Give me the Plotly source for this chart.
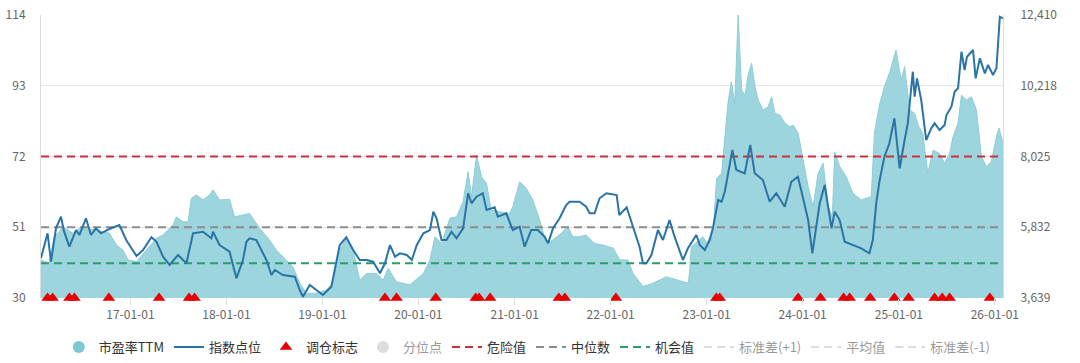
import plotly.graph_objects as go

pe_dates = ["2016-01-27","2016-02-27","2016-03-17","2016-04-06","2016-04-19","2016-05-27","2016-06-22","2016-08-24","2016-10-14","2016-11-09","2016-12-04","2016-12-23",
"2017-01-24","2017-03-02","2017-04-10","2017-05-05","2017-06-12","2017-06-25","2017-07-20","2017-08-08","2017-08-21","2017-09-09","2017-10-04","2017-10-29","2017-11-11","2017-12-06",
"2018-01-13","2018-02-01","2018-03-05","2018-03-30","2018-05-07","2018-06-14","2018-07-10","2018-08-04","2018-09-11","2018-10-07","2018-11-01","2018-12-09",
"2019-01-16","2019-02-10","2019-03-08","2019-04-02","2019-04-28","2019-05-23","2019-06-18","2019-07-26","2019-08-08","2019-08-20","2019-09-08","2019-10-10","2019-11-30",
"2020-01-20","2020-02-14","2020-03-04","2020-03-29","2020-04-30","2020-05-25","2020-06-19","2020-07-08","2020-07-21","2020-08-09","2020-08-28","2020-09-16","2020-10-04","2020-11-05","2020-12-13","2020-12-25",
"2021-01-20","2021-02-14","2021-03-11","2021-04-06","2021-05-01","2021-05-26","2021-06-27","2021-07-22","2021-08-10","2021-09-05","2021-09-30","2021-11-01","2021-12-03",
"2022-01-11","2022-02-05","2022-03-08","2022-03-27","2022-05-04","2022-06-11","2022-08-01","2022-09-21","2022-10-23","2022-10-28","2022-11-04","2022-12-18",
"2023-01-01","2023-01-26","2023-02-08","2023-02-27","2023-03-11","2023-03-23","2023-04-05","2023-04-18","2023-05-01","2023-05-14","2023-05-27","2023-06-08","2023-06-21","2023-07-04","2023-07-16","2023-08-04","2023-08-23","2023-09-05","2023-09-18","2023-10-07","2023-10-26","2023-11-14","2023-11-26","2023-12-15",
"2024-01-03","2024-01-22","2024-02-10","2024-02-29","2024-03-19","2024-04-07","2024-04-23","2024-05-02","2024-05-21","2024-06-15","2024-07-10","2024-08-11","2024-09-18","2024-09-30","2024-10-19","2024-11-07","2024-11-26","2024-12-21",
"2025-01-10","2025-01-23","2025-02-11","2025-03-02","2025-03-18","2025-04-02","2025-04-21","2025-05-11","2025-06-05","2025-06-24","2025-07-13","2025-07-26","2025-08-14","2025-08-27","2025-09-15","2025-10-04","2025-10-23","2025-11-11","2025-11-30","2025-12-19",
"2026-01-07","2026-01-17","2026-02-01"]
pe_values = [41.3,40.3,48.2,49.7,51.2,49.2,50.7,50.2,49.2,45.7,44.2,41.3,
40.8,44.2,47.7,48.7,51.7,54.1,52.6,52.6,59.6,60.6,59.1,60.6,62.1,59.1,
59.3,54.1,54.6,55.1,50.7,47.2,44.2,42.3,39.3,34.4,31.4,31.4,
32.4,34.4,44.2,47.7,44.2,35.3,37.3,37.3,36.3,35.3,38.8,34.8,33.9,
37.3,41.3,48.2,46.2,53.7,54.1,58.6,67.5,60.1,72.4,66.0,64.0,56.1,55.6,55.1,57.1,
64.5,62.6,59.1,53.2,46.2,47.2,49.2,51.2,48.2,48.2,48.7,46.2,45.7,
44.8,41.3,41.3,37.3,33.4,34.4,36.3,35.0,34.4,37.5,45.2,48.2,
46.2,50.0,65.5,67.0,76.9,87.8,94.2,87.8,114.0,91.7,90.2,96.2,99.7,92.7,88.8,85.8,86.8,89.7,84.8,84.3,81.9,80.8,81.3,78.9,
71.0,63.0,57.1,67.0,70.0,57.1,54.1,73.4,69.0,66.0,61.1,59.1,60.1,78.9,87.3,92.7,96.7,103.6,
94.7,98.7,85.8,84.8,80.8,78.9,67.0,73.9,72.9,70.0,72.9,77.9,81.9,90.2,88.8,89.7,85.8,71.9,69.0,70.5,
77.9,80.4,75.9]

idx_dates = ["2016-01-27","2016-02-21","2016-03-05","2016-03-24","2016-04-12","2016-04-24","2016-05-14","2016-06-08","2016-06-21","2016-07-16","2016-08-04","2016-08-23","2016-09-11","2016-10-13","2016-11-20","2016-12-16",
"2017-01-24","2017-02-18","2017-03-22","2017-04-10","2017-05-05","2017-05-30","2017-07-01","2017-08-02","2017-08-27","2017-10-04","2017-11-05","2017-11-11","2017-12-06",
"2018-01-13","2018-02-08","2018-03-05","2018-03-18","2018-03-30","2018-04-25","2018-06-02","2018-06-21","2018-07-04","2018-08-04","2018-09-18","2018-10-07","2018-10-19","2018-11-14","2018-12-09",
"2019-01-03","2019-02-04","2019-03-08","2019-04-02","2019-04-28","2019-05-23","2019-06-18","2019-07-13","2019-08-08","2019-08-27","2019-09-15","2019-10-04","2019-10-23","2019-11-18","2019-12-07","2019-12-26",
"2020-01-20","2020-02-14","2020-02-27","2020-03-10","2020-03-29","2020-04-17","2020-05-06","2020-05-25","2020-06-19","2020-07-08","2020-07-21","2020-08-09","2020-09-02","2020-09-16","2020-10-17","2020-10-29","2020-11-30","2020-12-25",
"2021-01-20","2021-02-08","2021-03-05","2021-03-30","2021-04-25","2021-05-08","2021-05-27","2021-06-21","2021-07-16","2021-07-29","2021-09-05","2021-09-30","2021-10-13","2021-11-01","2021-11-20","2021-12-16",
"2022-01-24","2022-02-03","2022-03-03","2022-03-27","2022-04-21","2022-05-04","2022-05-17","2022-06-05","2022-06-30","2022-07-19","2022-08-13","2022-09-01","2022-10-03","2022-10-22","2022-11-10","2022-11-23","2022-12-06","2022-12-25",
"2023-01-13","2023-01-26","2023-02-14","2023-02-27","2023-03-11","2023-03-23","2023-04-09","2023-04-24","2023-05-26","2023-06-16","2023-07-03","2023-08-03","2023-08-29","2023-09-23","2023-10-25","2023-11-19","2023-12-14","2023-12-28",
"2024-01-22","2024-02-07","2024-03-06","2024-03-25","2024-04-20","2024-05-02","2024-05-21","2024-06-09","2024-07-10","2024-08-11","2024-09-11","2024-09-24","2024-10-07","2024-10-19","2024-11-07","2024-11-26","2024-12-15",
"2025-01-04","2025-01-23","2025-02-04","2025-02-23","2025-03-02","2025-03-11","2025-03-27","2025-04-15","2025-05-04","2025-05-17","2025-06-05","2025-06-24","2025-07-01","2025-07-20","2025-08-01","2025-08-14","2025-08-27","2025-09-08","2025-09-17","2025-10-10","2025-10-20","2025-11-05","2025-11-24","2025-12-06","2025-12-25",
"2026-01-07","2026-01-20","2026-02-01"]
idx_values = [4880,5644,4764,5799,6159,5694,5229,5746,5591,6109,5591,5799,5644,5777,5901,5436,
4941,5127,5520,5384,4919,4662,4972,4714,5644,5694,5489,5694,5281,
5074,4249,4817,5384,5489,5436,4817,4352,4507,4352,4299,3887,3679,4042,3887,
3732,3989,5281,5520,5127,4817,4817,4764,4404,4714,5281,4919,5024,4972,4817,5281,
5644,5746,6313,6109,5436,5436,5694,5489,5799,6884,6574,6778,6884,6366,6450,6159,6264,5746,
5849,5229,5746,5746,5539,5334,5799,6109,6521,6623,6623,6468,6264,6264,6729,6884,
6831,6211,6450,5849,5229,4714,4714,4972,5746,5436,6056,5539,4817,5179,5436,5591,5281,5127,
5436,5849,6676,6623,6933,7503,8226,7606,7503,8380,7503,7296,6623,6884,6468,7243,7398,6933,
6056,5024,6574,7141,5799,6313,6056,5384,5281,5179,5024,5436,6574,7243,8018,8433,9208,
7658,8535,9053,10652,9877,10447,9775,8535,8898,9053,8845,9000,9310,9567,10032,10138,11272,10705,11117,11324,10447,11067,10602,10860,10550,
10757,12357,12307]

rebalance_dates = ["2016-02-21","2016-03-11","2016-05-14","2016-06-02","2016-10-11","2017-04-20","2017-08-12","2017-09-02",
"2019-08-27","2019-10-10","2020-03-07","2020-08-06","2020-08-19","2020-09-30","2021-06-18","2021-07-11","2022-01-21",
"2023-02-07","2023-02-20","2023-12-15","2024-03-09","2024-06-05","2024-06-28","2024-09-14","2024-12-15",
"2025-02-07","2025-05-17","2025-06-15","2025-07-13","2025-12-13"]

danger_value = 72
median_value = 51
chance_value = 40.3
line_span = ["2016-01-27", "2026-02-01"]

pe_ticks = [30, 51, 72, 93, 114]
idx_ticks = [3639, 5832, 8025, 10218, 12410]
x_ticks = ["2017-01-01","2018-01-01","2019-01-01","2020-01-01","2021-01-01","2022-01-01","2023-01-01","2024-01-01","2025-01-01","2026-01-01"]

FONT = "Noto Sans CJK SC, Noto Sans, sans-serif"
DASH = "8px,5px"

fig = go.Figure()

# PE area (no legend entry; a circle stand-in is used for the legend)
fig.add_trace(go.Scatter(x=pe_dates, y=pe_values, mode="lines", fill="tozeroy",
                         line=dict(color="#8fcdd7", width=1), fillcolor="#9dd5de",
                         name="市盈率TTM", showlegend=False, hoverinfo="skip"))
fig.add_trace(go.Scatter(x=[None], y=[None], mode="markers", name="市盈率TTM", legendrank=1,
                         marker=dict(symbol="circle", size=12, color="#7fc8d3")))

# reference lines
for val, color, nm, rank in [(danger_value, "#c9303a", "危险值", 5),
                             (median_value, "#8c8c8c", "中位数", 6),
                             (chance_value, "#2b9c6a", "机会值", 7)]:
    fig.add_trace(go.Scatter(x=line_span, y=[val, val], mode="lines", name=nm, legendrank=rank,
                             line=dict(color=color, width=2, dash=DASH), hoverinfo="skip"))

# index line
fig.add_trace(go.Scatter(x=idx_dates, y=idx_values, mode="lines", name="指数点位", yaxis="y2",
                         legendrank=2, line=dict(color="#2a74a5", width=2)))

# rebalance markers
fig.add_trace(go.Scatter(x=rebalance_dates, y=[30] * len(rebalance_dates), mode="markers",
                         name="调仓标志", legendrank=3, cliponaxis=False,
                         marker=dict(symbol="triangle-up", size=11, color="#e60000")))

# hidden (legend-only) series
fig.add_trace(go.Scatter(x=[None], y=[None], mode="markers", name="分位点", legendrank=4,
                         marker=dict(symbol="circle", size=12, color="#bdbdbd"), visible="legendonly"))
for nm, rank in [("标准差(+1)", 8), ("平均值", 9), ("标准差(-1)", 10)]:
    fig.add_trace(go.Scatter(x=[None], y=[None], mode="lines", name=nm, legendrank=rank,
                             visible="legendonly",
                             line=dict(color="#bbbbbb", width=2, dash=DASH)))

fig.update_layout(
    width=1080, height=363,
    margin=dict(l=41, r=77, t=15, b=65, autoexpand=False),
    paper_bgcolor="white", plot_bgcolor="white",
    font=dict(family=FONT, size=12, color="#666666"),
    showlegend=True,
    legend=dict(orientation="h", x=0.505, xanchor="center", y=-0.173, yanchor="middle",
                font=dict(size=13, color="#333333"), itemwidth=30, traceorder="normal",
                itemclick=False, itemdoubleclick=False),
    xaxis=dict(type="date", range=["2016-01-27", "2026-02-01"], tickvals=x_ticks,
               tickformat="%y-%m-%d", showgrid=False, zeroline=False, ticks="outside",
               ticklen=6, tickcolor="#dddddd", showline=False,
               tickfont=dict(size=12, color="#666666")),
    yaxis=dict(range=[30, 114], tickvals=pe_ticks, showgrid=True, gridcolor="#e6e6e6",
               zeroline=False, showline=True, linecolor="#dddddd", linewidth=1,
               ticks="", ticklabelstandoff=12, tickfont=dict(size=12, color="#666666")),
    yaxis2=dict(range=[3639, 12410], tickvals=idx_ticks, tickformat=",d", overlaying="y",
                side="right", showgrid=False, zeroline=False, showline=True, linecolor="#dddddd",
                ticks="", ticklabelstandoff=14, tickfont=dict(size=12, color="#666666")),
)

fig.write_html("out.html")
